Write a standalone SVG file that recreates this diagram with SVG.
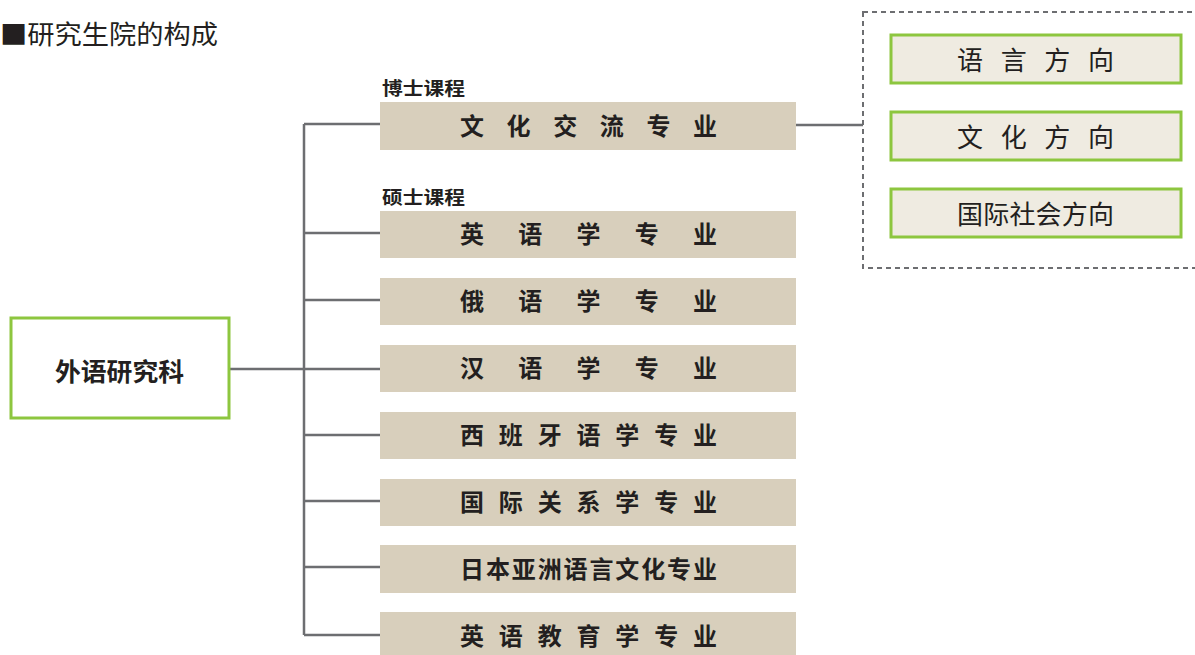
<svg xmlns="http://www.w3.org/2000/svg" width="1195" height="655" viewBox="0 0 1195 655">
<style>
.t{font-family:"Noto Sans CJK SC","Noto Sans CJK JP",sans-serif;fill:#231f20}
.b{font-weight:700}
.bar{fill:#d8cfbc}
.grn{fill:#efebe1;stroke:#8dc63f;stroke-width:3}
.ln{stroke:#6d6e71;stroke-width:2.5;fill:none}
</style>
<rect width="1195" height="655" fill="#ffffff"/>
<text class="t" x="0" y="44" font-size="26" textLength="218" lengthAdjust="spacingAndGlyphs">■研究生院的构成</text>
<g id="connectors">
<path class="ln" d="M229 369H304M304 124V635M304 124H380M304 233H380M304 300H380M304 369H380M304 435H380M304 501H380M304 567H380M304 635H380M796 125H863"/>
</g>
<g id="n-root">
<rect x="11" y="318" width="218" height="100" fill="#ffffff" stroke="#8dc63f" stroke-width="3"/>
<text class="t b" x="55" y="381" font-size="25" textLength="129" lengthAdjust="spacingAndGlyphs">外语研究科</text>
</g>
<g id="lbl-doctor"><text class="t b" x="382" y="95" font-size="18" textLength="83" lengthAdjust="spacingAndGlyphs">博士课程</text></g>
<g id="lbl-master"><text class="t b" x="382" y="204" font-size="18" textLength="83" lengthAdjust="spacingAndGlyphs">硕士课程</text></g>
<g id="n-wenhua"><rect class="bar" x="380" y="102" width="416" height="48"/><text class="t b" x="460" y="135" font-size="24" textLength="257" lengthAdjust="spacing">文化交流专业</text></g>
<g id="n-yingyu"><rect class="bar" x="380" y="211" width="416" height="47"/><text class="t b" x="460" y="243" font-size="24" textLength="257" lengthAdjust="spacing">英语学专业</text></g>
<g id="n-eyu"><rect class="bar" x="380" y="278" width="416" height="47"/><text class="t b" x="460" y="310" font-size="24" textLength="257" lengthAdjust="spacing">俄语学专业</text></g>
<g id="n-hanyu"><rect class="bar" x="380" y="345" width="416" height="47"/><text class="t b" x="460" y="377" font-size="24" textLength="257" lengthAdjust="spacing">汉语学专业</text></g>
<g id="n-xibanya"><rect class="bar" x="380" y="412" width="416" height="47"/><text class="t b" x="460" y="444" font-size="24" textLength="257" lengthAdjust="spacing">西班牙语学专业</text></g>
<g id="n-guoji"><rect class="bar" x="380" y="479" width="416" height="47"/><text class="t b" x="460" y="511" font-size="24" textLength="257" lengthAdjust="spacing">国际关系学专业</text></g>
<g id="n-riben"><rect class="bar" x="380" y="545" width="416" height="48"/><text class="t b" x="460" y="578" font-size="24" textLength="257" lengthAdjust="spacing">日本亚洲语言文化专业</text></g>
<g id="n-yingjiao"><rect class="bar" x="380" y="612" width="416" height="43"/><text class="t b" x="460" y="645" font-size="24" textLength="257" lengthAdjust="spacing">英语教育学专业</text></g>
<g id="n-group">
<rect x="863" y="12" width="345" height="256" fill="none" stroke="#6d6e71" stroke-width="2" stroke-dasharray="5 4"/>
</g>
<g id="n-yuyan"><rect class="grn" x="891" y="35" width="290" height="48"/><text class="t" x="957" y="70" font-size="26" textLength="157" lengthAdjust="spacing">语言方向</text></g>
<g id="n-wenhuafx"><rect class="grn" x="891" y="112" width="290" height="48"/><text class="t" x="957" y="147" font-size="26" textLength="157" lengthAdjust="spacing">文化方向</text></g>
<g id="n-shehui"><rect class="grn" x="891" y="189" width="290" height="48"/><text class="t" x="957" y="224" font-size="26" textLength="157" lengthAdjust="spacing">国际社会方向</text></g>
</svg>
